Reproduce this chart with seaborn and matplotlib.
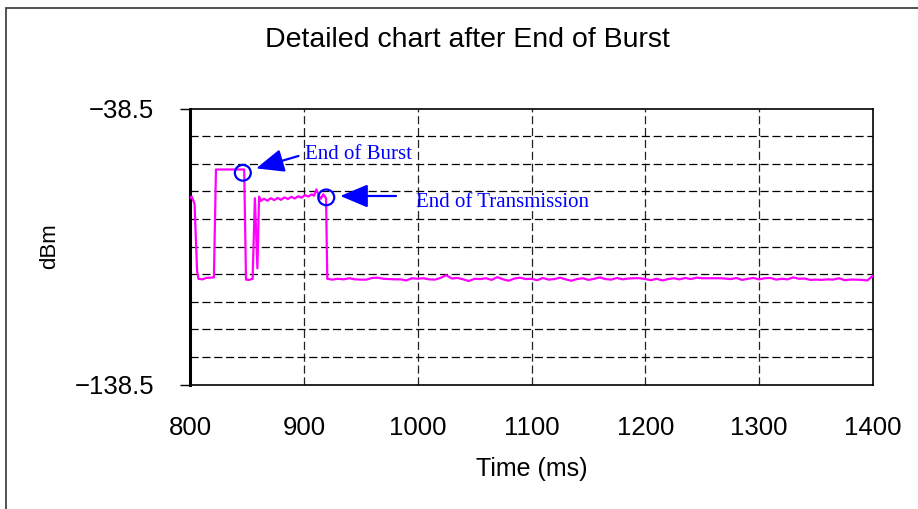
import matplotlib
matplotlib.use('Agg')
import matplotlib.pyplot as plt
import seaborn as sns
from matplotlib.patches import Ellipse, Rectangle

# burst / transmission part (ms, dBm)
t_head = [800, 801.5, 804, 806.2, 807.4, 811, 814, 821, 822.8, 847.6, 849.2, 852, 855,
          857, 859.2, 860.7, 862, 865, 868, 871, 874, 877, 880, 883, 886, 889, 892,
          895, 898, 901, 904, 907, 909, 911, 913, 915, 917, 919.5, 920.6]
v_head = [-71.0, -70.4, -73.0, -97.3, -100.2, -100.4, -99.9, -99.7, -60.6, -60.6, -100.5,
          -100.6, -100.2, -71.0, -96.4, -70.4, -72.0, -71.2, -71.9, -71.0, -71.7, -70.9,
          -71.6, -70.7, -71.3, -70.5, -71.1, -70.3, -70.8, -69.9, -70.4, -69.6, -70.1,
          -67.8, -69.9, -71.2, -69.6, -71.0, -100.2]

# noise floor after end of transmission
t_tail = [925, 930, 935, 940, 945, 950, 955, 960, 965, 970, 975, 980, 985, 990, 995,
          1000, 1005, 1010, 1015, 1020, 1025, 1030, 1035, 1040, 1045, 1050, 1055, 1060,
          1065, 1070, 1075, 1080, 1085, 1090, 1095, 1100, 1105, 1110, 1115, 1120, 1125,
          1130, 1135, 1140, 1145, 1150, 1155, 1160, 1165, 1170, 1175, 1180, 1185, 1190,
          1195, 1200, 1205, 1210, 1215, 1220, 1225, 1230, 1235, 1240, 1245, 1250, 1255,
          1260, 1265, 1270, 1275, 1280, 1285, 1290, 1295, 1300, 1305, 1310, 1315, 1320,
          1325, 1330, 1335, 1340, 1345, 1350, 1355, 1360, 1365, 1370, 1375, 1380, 1385,
          1390, 1395, 1400]
v_tail = [-100.5, -100.2, -100.4, -100.0, -100.4, -100.5, -100.5, -99.9, -99.8, -100.2,
          -100.3, -100.4, -100.4, -100.8, -100.0, -100.2, -100.0, -100.4, -100.5, -99.9,
          -98.9, -100.1, -99.9, -100.4, -101.0, -100.2, -100.3, -100.0, -100.6, -99.6,
          -100.4, -100.9, -100.1, -99.8, -100.3, -100.2, -100.7, -99.9, -100.5, -100.3,
          -99.8, -100.4, -100.9, -100.3, -100.0, -100.6, -100.2, -99.7, -100.3, -100.5,
          -99.9, -100.4, -100.1, -100.0, -100.0, -100.3, -100.7, -100.2, -100.8, -100.3,
          -100.0, -100.4, -99.9, -100.3, -99.8, -100.0, -100.0, -100.0, -100.0, -100.1,
          -100.3, -99.9, -100.6, -100.2, -99.9, -100.4, -100.0, -99.9, -100.5, -100.2,
          -100.4, -99.7, -100.2, -100.1, -100.6, -100.5, -100.6, -100.4, -100.5, -100.0,
          -100.7, -100.5, -100.5, -100.6, -100.8, -99.1]

times = t_head + t_tail
dbm = v_head + v_tail

x_ticks = [800, 900, 1000, 1100, 1200, 1300, 1400]
y_major = [-138.5, -38.5]
y_major_labels = ['\u2212138.5', '\u221238.5']
y_minor = [-128.5, -118.5, -108.5, -98.5, -88.5, -78.5, -68.5, -58.5, -48.5]

sns.set_style('white')
plt.rcParams['font.family'] = ['Liberation Sans', 'DejaVu Sans']
plt.rcParams['text.color'] = 'black'
plt.rcParams['axes.labelcolor'] = 'black'
plt.rcParams['xtick.color'] = 'black'
plt.rcParams['ytick.color'] = 'black'

fig = plt.figure(figsize=(9.18, 5.09), dpi=100)
ax = fig.add_axes([190 / 918, 1 - 384.5 / 509, 683 / 918, 276 / 509])

sns.lineplot(x=times, y=dbm, ax=ax, color='#FF00FF', lw=1.6, zorder=3)

ax.set_xlim(800, 1400)
ax.set_ylim(-138.5, -38.5)
ax.set_xticks(x_ticks)
ax.set_xticklabels([str(t) for t in x_ticks])
ax.set_yticks(y_major)
ax.set_yticklabels(y_major_labels)
ax.set_yticks(y_minor, minor=True)

dash = (0, (6.5, 3))
for x in x_ticks[1:-1]:
    ax.axvline(x, color='#222222', lw=0.9, linestyle=dash, zorder=1)
for y in y_minor:
    ax.axhline(y, color='black', lw=0.9, linestyle=dash, zorder=1)

ax.tick_params(axis='x', length=0, pad=23, labelsize=18.5)
ax.tick_params(axis='y', which='major', length=7, width=1, direction='out',
               pad=19, labelsize=18.5, left=True, color='black')
ax.tick_params(axis='y', which='minor', length=0)
for s in ax.spines.values():
    s.set_color('black')
    s.set_linewidth(1.2)
ax.spines['left'].set_linewidth(2.2)

ax.set_xlabel('Time (ms)', fontsize=18)
ax.xaxis.set_label_coords(0.5, -0.262)
ax.set_ylabel('dBm', fontsize=16)
ax.yaxis.set_label_coords(-0.19, 0.5)

fig.text(467 / 918, 1 - 40 / 509, 'Detailed chart after End of Burst',
         ha='center', va='center', fontsize=20.5)

# markers for the two events
blue = '#0000FF'
ax.add_patch(Ellipse((846.4, -61.8), 14, 5.7, fill=False, ec=blue, lw=1.6, zorder=4))
ax.add_patch(Ellipse((919.7, -70.7), 14, 5.7, fill=False, ec=blue, lw=1.6, zorder=4))

arrow = dict(arrowstyle='-|>,head_length=1.0,head_width=0.42', mutation_scale=17,
             color=blue, lw=1.6, shrinkA=0, shrinkB=0)
ax.annotate('', xy=(858.1, -60.2), xytext=(895.3, -55.7), arrowprops=arrow, zorder=5)
ax.annotate('', xy=(932, -70.2), xytext=(981, -70.2), arrowprops=arrow, zorder=5)
ax.text(900.6, -55.3, 'End of Burst', color=blue, fontsize=15, va='center',
        family=['Liberation Serif', 'DejaVu Serif'])
ax.text(998.7, -72.4, 'End of Transmission', color=blue, fontsize=15, va='center',
        family=['Liberation Serif', 'DejaVu Serif'])

# outer chart frame (cut off at right and bottom)
fig.add_artist(Rectangle((6 / 918, -0.1), 1.2, 1.1 - 8.5 / 509, transform=fig.transFigure,
                         fill=False, ec='#444444', lw=1.3))

fig.savefig('out.png', dpi=100)
